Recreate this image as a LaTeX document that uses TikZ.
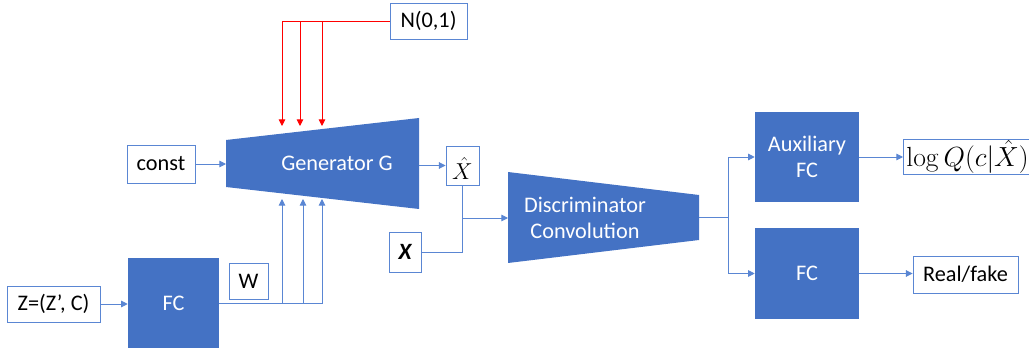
\documentclass[tikz,border=0pt]{standalone}
\usepackage[no-math]{fontspec}
\setmainfont{Carlito}
\usetikzlibrary{arrows.meta,calc}
\definecolor{blk}{HTML}{4472C4}
\definecolor{edge}{HTML}{5A86D3}
\definecolor{noisered}{HTML}{FF0000}
\tikzset{
  lbl/.style={draw=edge, line width=0.7pt, fill=white, inner sep=0pt,
    font=\fontsize{16.7}{20}\selectfont},
  unit/.style={fill=blk, inner sep=0pt, text=white, align=center,
    font=\fontsize{16.7}{20}\selectfont},
  caption/.style={inner sep=0pt, text=white, align=center,
    font=\fontsize{16.7}{20}\selectfont},
  wire/.style={draw=edge, line width=0.7pt},
  arr/.style={wire, -{Triangle[length=5pt,width=5pt]}},
  noisearr/.style={draw=noisered, line width=0.7pt, -{Triangle[length=5pt,width=5pt]}},
}
\begin{document}
\begin{tikzpicture}[x=0.75pt,y=-0.75pt]
\useasboundingbox (0,0) rectangle (1029,349);

% generator trapezoid
\coordinate (g1) at (226,140);
\coordinate (g2) at (419,118);
\coordinate (g3) at (419,209);
\coordinate (g4) at (226,187);
\fill[blk] (g1) -- (g2) -- (g3) -- (g4) -- cycle;
\node[caption] (gen) at (337,163) {Generator G};

% discriminator trapezoid
\coordinate (d1) at (508,172);
\coordinate (d2) at (699,195);
\coordinate (d3) at (699,240);
\coordinate (d4) at (508,263);
\fill[blk] (d1) -- (d2) -- (d3) -- (d4) -- cycle;
\node[caption] (disc) at (585,218) {Discriminator\\Convolution};
\coordinate (dl) at (508,218);
\coordinate (dr) at (699,217.5);

% input / output labels
\node[lbl, minimum width=57.75pt, minimum height=27pt] (noise) at (428.5,21) {N(0,1)};
\node[lbl, minimum width=51pt, minimum height=28.5pt] (const) at (161,164) {const};
\node[lbl, minimum width=24.75pt, minimum height=29.25pt,
      font=\fontsize{18.5}{20}\selectfont] (xhat) at (462.5,165.5)
      {\raisebox{-2.5pt}[\height][\depth]{$\hat{X}$}};
\node[lbl, minimum width=24pt, minimum height=30pt,
      font=\fontsize{17.5}{20}\selectfont\bfseries\itshape] (xin) at (405,252) {X};
\node[lbl, minimum width=29.25pt, minimum height=27pt] (w) at (248.5,281) {W};
\node[lbl, minimum width=69.75pt, minimum height=27pt] (zin) at (53.5,304) {Z=(Z’, C)};
\node[lbl, minimum width=78.75pt, minimum height=27.75pt] (real) at (965.5,274.5) {Real/fake};
\node[lbl, anchor=west, inner xsep=2.2pt, minimum height=26.25pt,
      font=\fontsize{20}{22}\selectfont] (logq) at (903,156.5) {$\log Q(c|\hat{X})$};

% fully connected blocks
\node[unit, minimum width=68.25pt, minimum height=67.5pt] (fc1) at (173.5,303) {FC};
\node[unit, minimum width=78pt, minimum height=67.5pt] (aux) at (807,157) {Auxiliary\\FC};
\node[unit, minimum width=78pt, minimum height=68.25pt] (fc2) at (807,273.5) {FC};

% noise injection into the generator
\coordinate (n1) at (282,126);
\coordinate (n2) at (300,126);
\coordinate (n3) at (322,126);
\draw[noisearr] (noise.west) -| (n1);
\draw[noisearr] (noise.west) -| (n2);
\draw[noisearr] (noise.west) -| (n3);

% style vector w into the generator
\coordinate (w1) at (282,199);
\coordinate (w2) at (303,199);
\coordinate (w3) at (322,199);
\draw[arr] (fc1.east) -| (w1);
\draw[arr] (fc1.east) -| (w2);
\draw[arr] (fc1.east) -| (w3);

\draw[arr] (zin.east) -- (zin.east -| fc1.west);
\draw[arr] (const.east) -- (const.east -| g1);
\draw[arr] (xhat.west -| g2) -- (xhat.west);

% discriminator inputs
\coordinate (jn) at (462.5,218);
\draw[wire] (xin.east) -| (jn);
\draw[arr] (xhat.south) |- (dl);

% discriminator heads
\coordinate (sp) at (728,217.5);
\draw[wire] (dr) -- (sp);
\draw[arr] (sp) |- (aux.west);
\draw[arr] (sp) |- (fc2.west);
\draw[arr] (aux.east) -- (aux.east -| logq.west);
\draw[arr] (fc2.east) -- (fc2.east -| real.west);
\end{tikzpicture}
\end{document}
